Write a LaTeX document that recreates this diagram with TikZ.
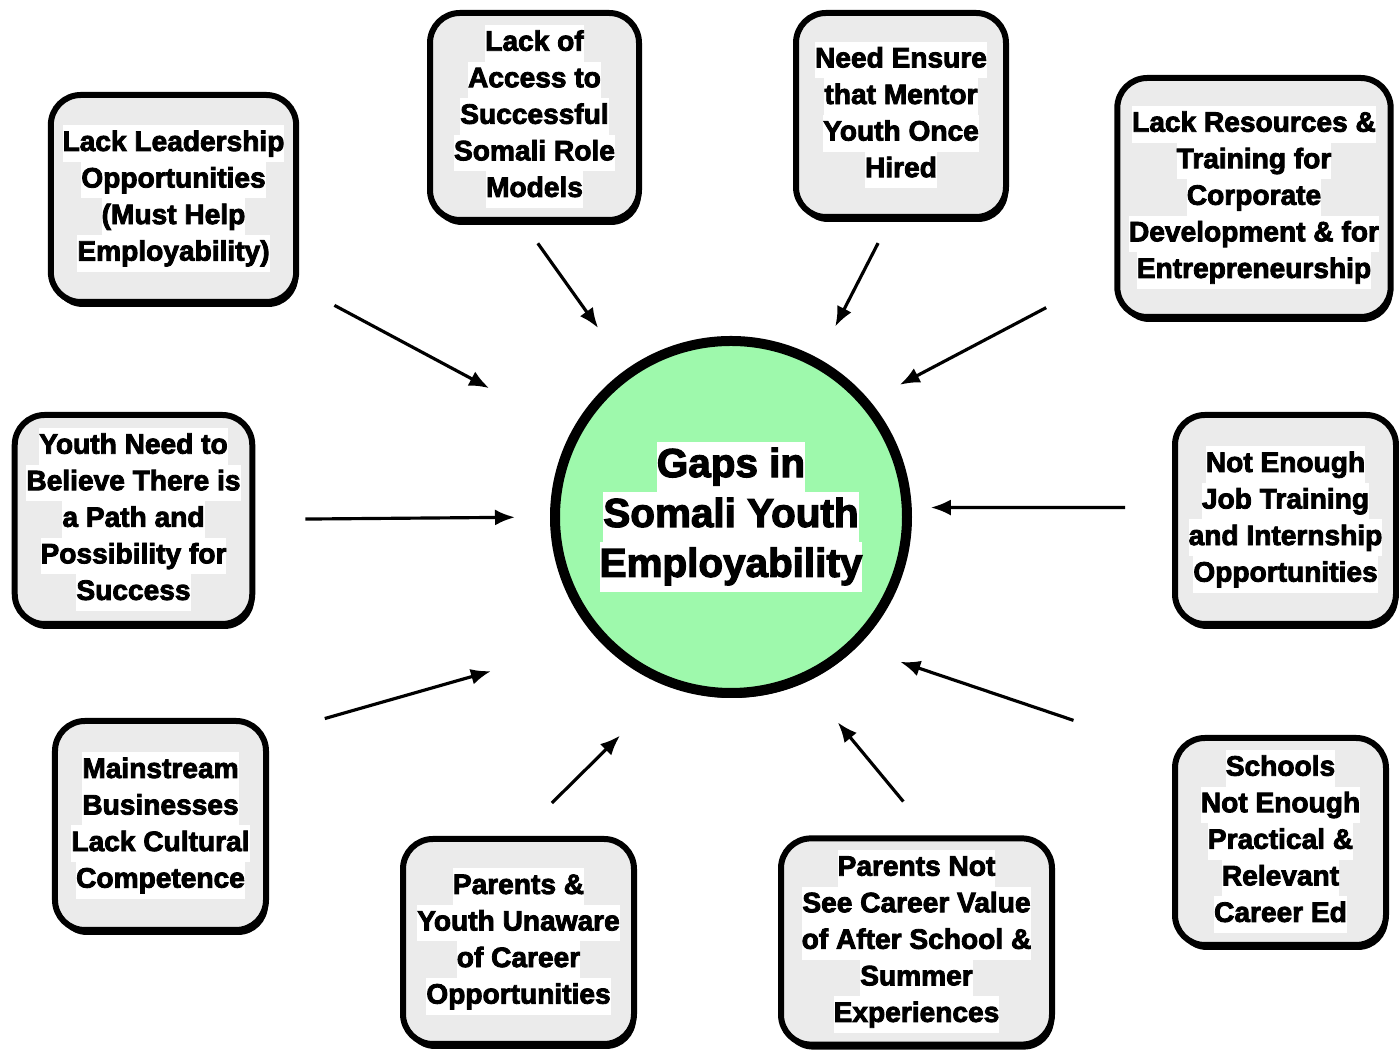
\documentclass[tikz,border=0pt]{standalone}
\usepackage{fontspec}
\setmainfont{Liberation Sans}
\newfontface\blobfont{Liberation Sans Bold}[FakeBold=3]
\usetikzlibrary{arrows.meta, shadows}

\definecolor{boxgray}{RGB}{235,235,235}
\definecolor{gapgreen}{RGB}{158,249,172}
\setlength{\fboxsep}{0pt}
\newcommand{\wl}[1]{\colorbox{white}{\strut #1}}

\begin{document}
\begin{tikzpicture}

% Define styles
\tikzstyle{cause} = [rectangle, draw=black, line width=0.06cm, fill=boxgray, rounded corners=0.3cm,
    align=center, font={\blobfont\fontsize{8}{10.4}\selectfont},
    drop shadow={shadow xshift=0.02cm, shadow yshift=-0.05cm, fill=black, opacity=1}]
\tikzstyle{hub} = [circle, draw=black, line width=0.1cm, fill=gapgreen, minimum size=3.52cm,
    align=center, font={\blobfont\fontsize{11.5}{14.2}\selectfont},
    drop shadow={shadow xshift=0.02cm, shadow yshift=-0.05cm, fill=black, opacity=1}]
\tikzstyle{line} = [draw, line width=0.9pt, -{Latex[length=0.2cm, width=0.16cm]}]

\useasboundingbox (0,0) rectangle (13.99,10.54);

% Place nodes
\node [hub] (gap) at (7.31,5.37) {\wl{Gaps in}\\\wl{Somali Youth}\\\wl{Employability}};

\node [cause, minimum width=2.37cm, minimum height=2.07cm] (lead) at (1.735,8.555)
    {\wl{Lack Leadership}\\\wl{Opportunities}\\\wl{(Must Help}\\\wl{Employability)}};
\node [cause, minimum width=2.09cm, minimum height=2.07cm] (access) at (5.345,9.375)
    {\wl{Lack of}\\\wl{Access to}\\\wl{Successful}\\\wl{Somali Role}\\\wl{Models}};
\node [cause, minimum width=2.10cm, minimum height=2.04cm] (mentor) at (9.01,9.39)
    {\wl{Need Ensure}\\\wl{that Mentor}\\\wl{Youth Once}\\\wl{Hired}};
\node [cause, minimum width=2.66cm, minimum height=2.39cm] (resources) at (12.54,8.565)
    {\wl{Lack Resources \&}\\\wl{Training for}\\\wl{Corporate}\\\wl{Development \& for}\\\wl{Entrepreneurship}};
\node [cause, minimum width=2.37cm, minimum height=2.09cm] (believe) at (1.335,5.345)
    {\wl{Youth Need to}\\\wl{Believe There is}\\\wl{a Path and}\\\wl{Possibility for}\\\wl{Success}};
\node [cause, minimum width=2.21cm, minimum height=2.09cm] (training) at (12.855,5.345)
    {\wl{Not Enough}\\\wl{Job Training}\\\wl{and Internship}\\\wl{Opportunities}};
\node [cause, minimum width=2.11cm, minimum height=2.09cm] (mainstream) at (1.605,2.285)
    {\wl{Mainstream}\\\wl{Businesses}\\\wl{Lack Cultural}\\\wl{Competence}};
\node [cause, minimum width=2.31cm, minimum height=2.05cm] (unaware) at (5.185,1.125)
    {\wl{Parents \&}\\\wl{Youth Unaware}\\\wl{of Career}\\\wl{Opportunities}};
\node [cause, minimum width=2.71cm, minimum height=2.05cm] (value) at (9.165,1.125)
    {\wl{Parents Not}\\\wl{See Career Value}\\\wl{of After School \&}\\\wl{Summer}\\\wl{Experiences}};
\node [cause, minimum width=2.11cm, minimum height=2.07cm] (schools) at (12.805,2.125)
    {\wl{Schools}\\\wl{Not Enough}\\\wl{Practical \&}\\\wl{Relevant}\\\wl{Career Ed}};

% Draw edges
\path [line, shorten <=0.40cm, shorten >=0.93cm] (lead.-35) -- (gap.152);
\path [line, shorten <=0.25cm, shorten >=0.50cm] (access.-96) -- (gap.125);
\path [line, shorten <=0.26cm, shorten >=0.36cm] (mentor.-96) -- (gap.61);
\path [line, shorten <=0.77cm, shorten >=0.34cm] (resources.-152) -- (gap.40);
\path [line, shorten <=0.50cm, shorten >=0.35cm] (believe.east) -- (gap.180);
\path [line, shorten <=0.47cm, shorten >=0.19cm] (training.174) -- (gap.3);
\path [line, shorten <=0.58cm, shorten >=1.12cm] (mainstream.40) -- (gap.-137);
\path [line, shorten <=0.47cm, shorten >=0.69cm] (unaware.north) -- (gap.-110);
\path [line, shorten <=0.44cm, shorten >=0.52cm] (value.82) -- (gap.-66);
\path [line, shorten <=1.04cm, shorten >=0.46cm] (schools.141) -- (gap.-46);

\end{tikzpicture}
\end{document}
